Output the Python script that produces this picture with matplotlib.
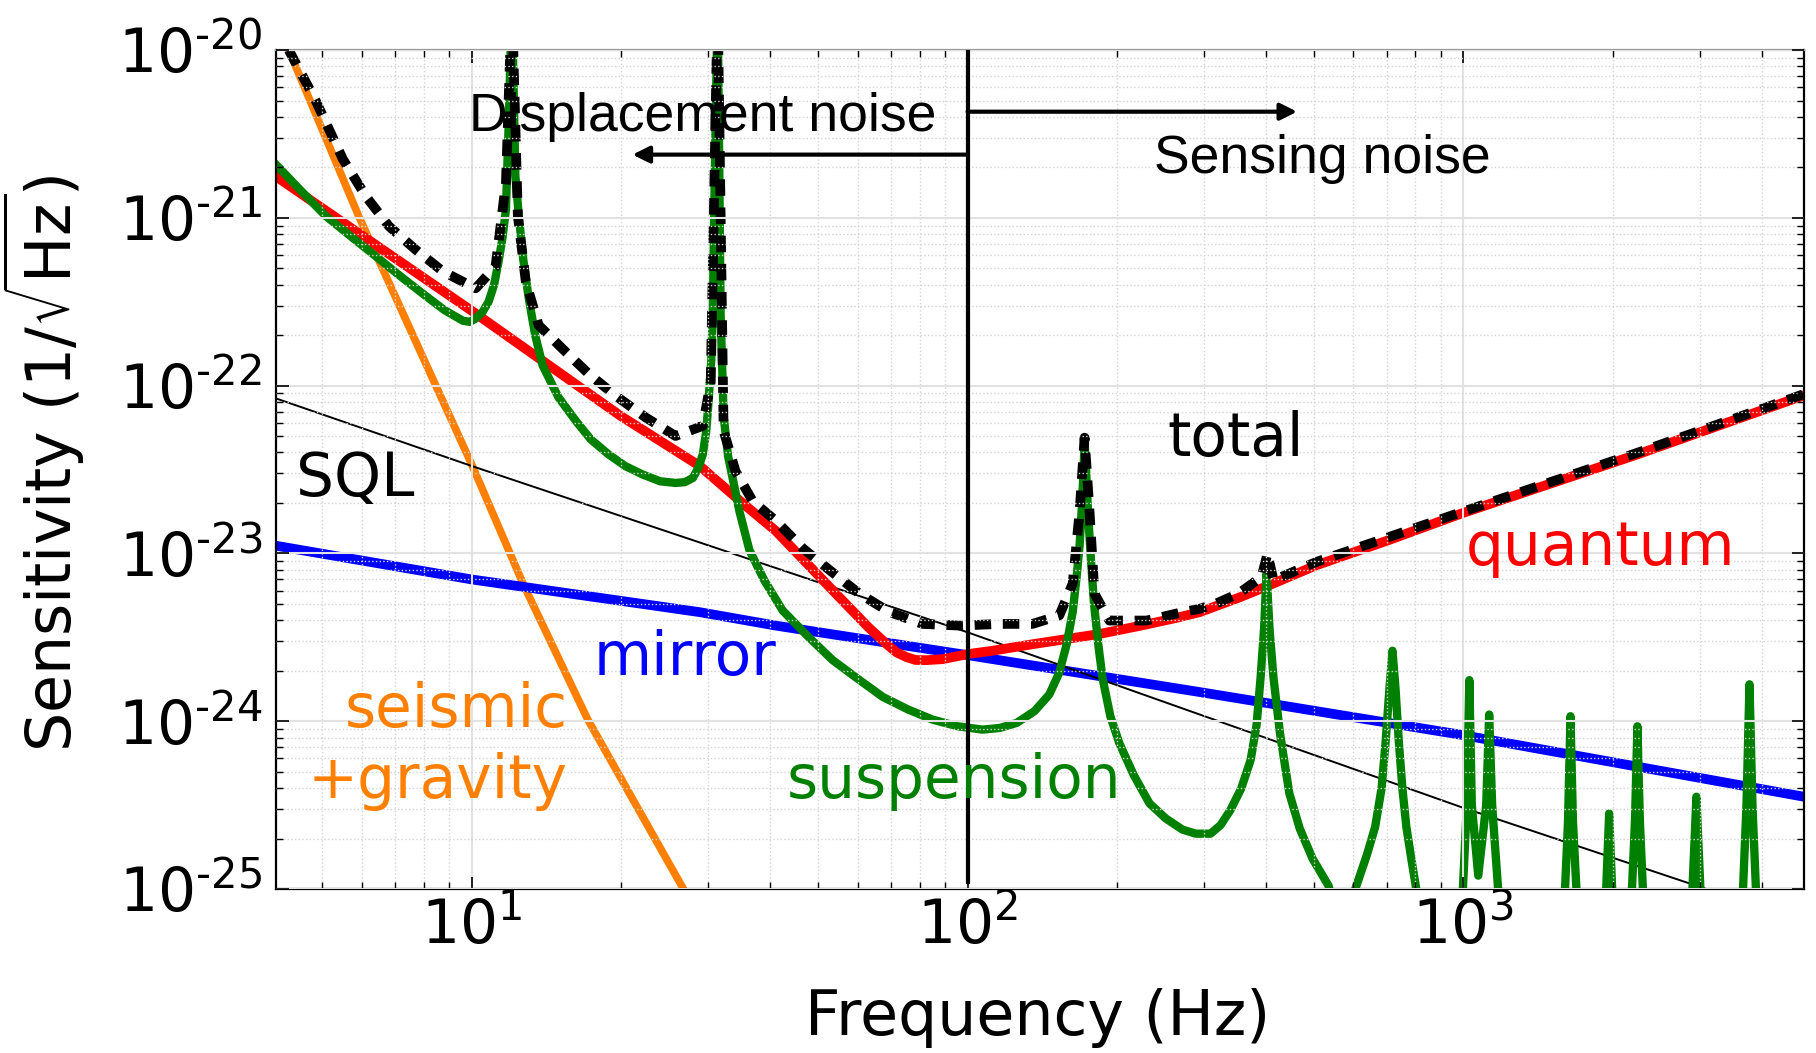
import numpy as np
import matplotlib
matplotlib.use('Agg')
import matplotlib.pyplot as plt
from matplotlib.ticker import FuncFormatter, NullFormatter

plt.rcParams['font.family'] = 'DejaVu Sans'
plt.rcParams['mathtext.default'] = 'regular'

# values, stored as log10(frequency / Hz) and log10(sensitivity / Hz^-1/2)
seismic_lf = [0.631, 0.772, 1.0, 1.105, 1.234, 1.427]
seismic_lh = [-20.0, -20.99, -22.47, -23.19, -23.99, -25.0]

sql_lf = [0.605, 1.0, 2.0, 2.994, 3.49]
sql_lh = [-22.076, -22.479, -23.47, -24.51, -25.0]

mirror_lf = [0.605, 1.0, 1.46, 1.613, 2.0, 2.468, 2.994, 3.687]
mirror_lh = [-22.954, -23.155, -23.35, -23.43, -23.606, -23.826, -24.08, -24.45]

quantum_lf = [0.605, 1.0, 1.3, 1.46, 1.55, 1.613, 1.728, 1.80, 1.837, 1.857, 1.877,
              1.895, 1.917, 1.95, 2.0, 2.05, 2.131, 2.2, 2.266, 2.35, 2.42, 2.468,
              2.50, 2.546, 2.6, 2.704, 2.85, 3.0, 3.351, 3.687]
quantum_lh = [-20.753, -21.554, -22.18, -22.479, -22.71, -22.865, -23.22, -23.44,
              -23.541, -23.59, -23.618, -23.635, -23.636, -23.63, -23.60, -23.58,
              -23.541, -23.51, -23.48, -23.43, -23.385, -23.35, -23.315, -23.265,
              -23.20, -23.07, -22.92, -22.758, -22.41, -22.058]

suspension_lf = [0.605, 0.656, 0.706, 0.756, 0.806, 0.857, 0.907, 0.945, 0.982, 0.996,
                 1.008, 1.022, 1.034, 1.045, 1.054, 1.062, 1.069, 1.075, 1.081, 1.088,
                 1.095, 1.104, 1.115, 1.128, 1.143, 1.175, 1.21, 1.24, 1.276, 1.31,
                 1.345, 1.38, 1.411, 1.43, 1.446, 1.457, 1.466, 1.473, 1.478, 1.483,
                 1.486, 1.49, 1.496, 1.502, 1.508, 1.517, 1.526, 1.54, 1.56, 1.59,
                 1.627, 1.68, 1.728, 1.78, 1.829, 1.88, 1.929, 1.98, 2.03, 2.065,
                 2.099, 2.135, 2.165, 2.185, 2.2, 2.212, 2.22, 2.226, 2.23, 2.234,
                 2.236, 2.239, 2.243, 2.248, 2.255, 2.264, 2.272, 2.288, 2.306, 2.335,
                 2.367, 2.40, 2.433, 2.46, 2.49, 2.51, 2.53, 2.552, 2.571, 2.583,
                 2.591, 2.598, 2.603, 2.609, 2.617, 2.63, 2.649, 2.67, 2.696, 2.728,
                 2.755, 2.782, 2.805, 2.822, 2.835, 2.843, 2.851, 2.857, 2.863, 2.87,
                 2.877, 2.885, 2.895, 2.905, 2.95, 2.999, 3.007, 3.012, 3.017, 3.03,
                 3.046, 3.052, 3.058, 3.07, 3.146, 3.205, 3.211, 3.216, 3.221, 3.228,
                 3.255, 3.288, 3.294, 3.30, 3.32, 3.34, 3.346, 3.351, 3.356, 3.362,
                 3.415, 3.462, 3.47, 3.478, 3.52, 3.564, 3.571, 3.577, 3.583, 3.59,
                 3.687]
suspension_lh = [-20.682, -20.84, -20.99, -21.11, -21.228, -21.35, -21.465, -21.55,
                 -21.613, -21.62, -21.60, -21.56, -21.50, -21.40, -21.263, -21.12,
                 -20.95, -20.40, -19.7, -20.75, -20.99, -21.25, -21.48, -21.70, -21.88,
                 -22.07, -22.21, -22.32, -22.41, -22.48, -22.53, -22.57, -22.58,
                 -22.575, -22.55, -22.49, -22.41, -22.27, -22.08, -21.85, -21.58,
                 -20.79, -19.7, -21.58, -22.18, -22.42, -22.55, -22.75, -22.98, -23.16,
                 -23.34, -23.50, -23.636, -23.75, -23.855, -23.93, -23.99, -24.03,
                 -24.05, -24.04, -24.01, -23.94, -23.84, -23.71, -23.54, -23.35,
                 -23.14, -22.95, -22.75, -22.5, -22.33, -22.5, -22.75, -23.0, -23.3,
                 -23.55, -23.74, -23.97, -24.13, -24.32, -24.49, -24.58, -24.645,
                 -24.67, -24.67, -24.62, -24.53, -24.40, -24.23, -24.02, -23.74,
                 -23.45, -23.12, -23.45, -23.74, -24.07, -24.43, -24.64, -24.82,
                 -24.98, -25.3, -25.0, -24.80, -24.63, -24.40, -24.13, -23.80, -23.58,
                 -23.80, -24.13, -24.40, -24.63, -24.82, -25.0, -25.3, -25.0, -24.5,
                 -23.755, -24.5, -24.92, -24.5, -23.96, -24.5, -25.0, -25.3, -25.0,
                 -24.6, -23.97, -24.6, -25.0, -25.3, -25.0, -24.55, -25.0, -25.3,
                 -25.0, -24.6, -24.03, -24.6, -25.0, -25.3, -25.0, -24.45, -25.0,
                 -25.3, -25.0, -24.5, -23.78, -24.5, -25.0, -25.5]

total_lf = [0.631, 0.685, 0.74, 0.786, 0.833, 0.887, 0.942, 1.008, 1.048, 1.069, 1.081,
            1.093, 1.109, 1.135, 1.183, 1.236, 1.29, 1.351, 1.411, 1.466, 1.482, 1.496,
            1.508, 1.532, 1.567, 1.615, 1.668, 1.722, 1.782, 1.843, 1.909, 1.984, 2.065,
            2.131, 2.185, 2.212, 2.226, 2.236, 2.246, 2.256, 2.286, 2.361, 2.433, 2.468,
            2.50, 2.546, 2.593, 2.605, 2.617, 2.704, 3.0, 3.351, 3.687]
total_lh = [-20.0, -20.30, -20.65, -20.87, -21.05, -21.19, -21.32, -21.42, -21.29,
            -20.79, -19.7, -20.99, -21.38, -21.64, -21.78, -21.93, -22.06, -22.19,
            -22.30, -22.24, -21.98, -19.7, -22.27, -22.51, -22.69, -22.81, -22.97,
            -23.10, -23.24, -23.35, -23.42, -23.43, -23.42, -23.42, -23.37, -23.18,
            -22.75, -22.31, -22.75, -23.24, -23.40, -23.40, -23.35, -23.33, -23.30,
            -23.24, -23.14, -23.0, -23.16, -23.05, -22.75, -22.40, -22.05]

boundary_f = 100
f_range = (4.03, 4864)
h_range = (1e-25, 1e-20)
y_ticks = [1e-25, 1e-24, 1e-23, 1e-22, 1e-21, 1e-20]
x_ticks = [10, 100, 1000]


def curve(lf, lh):
    return 10.0 ** np.array(lf), 10.0 ** np.array(lh)


fig = plt.figure(figsize=(18.16, 10.53), dpi=100)
ax = fig.add_axes([0.152, 0.1557, 0.8414, 0.7968])
ax.set_xscale('log')
ax.set_yscale('log')

ax.plot(*curve(seismic_lf, seismic_lh), color='#ff8000', lw=5.5)
ax.plot(*curve(mirror_lf, mirror_lh), color='#0000ff', lw=7)
ax.plot(*curve(sql_lf, sql_lh), color='black', lw=1.4)
ax.plot(*curve(quantum_lf, quantum_lh), color='#ff0000', lw=7, solid_joinstyle='round')
ax.plot(*curve(suspension_lf, suspension_lh), color='#008000', lw=6,
        solid_joinstyle='round')
ax.plot(*curve(total_lf, total_lh), color='black', lw=7, dashes=(1.7, 1.2))

ax.axvline(boundary_f, ymin=0.008, ymax=1, color='black', lw=3, zorder=3)
ax.annotate('', xy=(462, 4.29e-21), xytext=(boundary_f, 4.29e-21),
            arrowprops=dict(arrowstyle='-|>', lw=3, color='black',
                            mutation_scale=25, shrinkA=0, shrinkB=0), zorder=3)
ax.annotate('', xy=(21.1, 2.38e-21), xytext=(boundary_f, 2.38e-21),
            arrowprops=dict(arrowstyle='-|>', lw=3, color='black',
                            mutation_scale=25, shrinkA=0, shrinkB=0), zorder=3)
ax.text(9.86, 3.27e-21, 'Displacement noise', family='Liberation Sans', fontsize=38.5)
ax.text(238, 1.86e-21, 'Sensing noise', family='Liberation Sans', fontsize=38.5)

lab = dict(fontsize=43, va='baseline')
ax.text(253, 3.80e-23, 'total', color='black', **lab)
ax.text(4.42, 2.20e-23, 'SQL', color='black', **lab)
ax.text(1009, 8.51e-24, 'quantum', color='#ff0000', **lab)
ax.text(17.6, 1.88e-24, 'mirror', color='#0000ff', **lab)
ax.text(15.6, 9.27e-25, 'seismic', color='#ff8000', ha='right', **lab)
ax.text(15.6, 3.47e-25, '+gravity', color='#ff8000', ha='right', **lab)
ax.text(43.2, 3.47e-25, 'suspension', color='#008000', **lab)

ax.set_xticks(x_ticks)
ax.set_yticks(y_ticks)
ax.set_xlim(*f_range)
ax.set_ylim(*h_range)

ax.xaxis.set_major_formatter(FuncFormatter(lambda v, p: r'$10^{%d}$' % round(np.log10(v))))
ax.yaxis.set_major_formatter(FuncFormatter(lambda v, p: r'$10^{\text{-%d}}$' % -round(np.log10(v))))
ax.xaxis.set_minor_formatter(NullFormatter())
ax.yaxis.set_minor_formatter(NullFormatter())

ax.tick_params(which='both', direction='in', top=True, right=True, labelsize=43)
ax.tick_params(which='major', length=9, width=1.2)
ax.tick_params(which='minor', length=5, width=1.0)
ax.tick_params(axis='x', pad=6)
ax.tick_params(axis='y', pad=10)

ax.set_axisbelow(False)
ax.grid(True, which='major', color='#e2e2e2', lw=1.5, ls='-')
ax.grid(True, which='minor', color='#d4d4d4', lw=1.0, ls=':')
for s in ax.spines.values():
    s.set_linewidth(1.6)
ax.spines['top'].set_color('#999999')

ax.set_xlabel('Frequency (Hz)', fontsize=44.5)
ax.set_ylabel(r'Sensitivity (1/$\sqrt{\mathrm{Hz}}$)', fontsize=44.5)
ax.xaxis.set_label_coords(0.4987, -0.118)
ax.yaxis.set_label_coords(-0.124, 0.507)

fig.savefig('out.png', dpi=100)
